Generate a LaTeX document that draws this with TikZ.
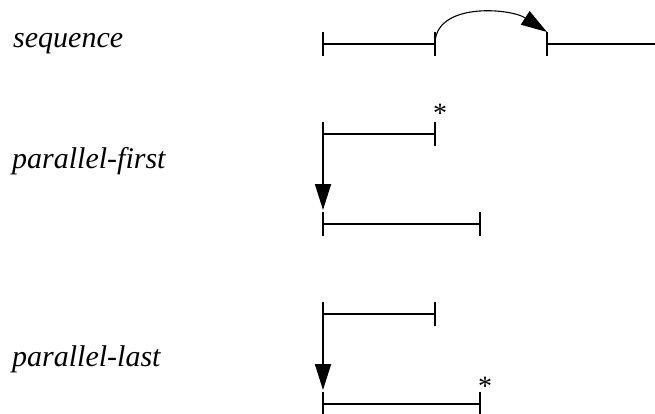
\documentclass[tikz,border=0pt]{standalone}
\usepackage{fontspec}
\setmainfont{Liberation Serif}
\usetikzlibrary{arrows.meta}
\begin{document}
\begin{tikzpicture}[x=1pt,y=-1pt,
  bar/.style={line width=1.8pt},
  tick/.style={line width=1.8pt},
  flow/.style={line width=1.8pt,-{Triangle[length=26pt,width=16pt]}},
  arcflow/.style={line width=1.1pt,-{Triangle[length=26pt,width=16pt]}},
  lbl/.style={anchor=base west,inner sep=0pt,font=\fontsize{30}{36}\selectfont\itshape},
  star/.style={anchor=base,inner sep=0pt,font=\fontsize{28}{32}\selectfont}]
\useasboundingbox (0,0) rectangle (655,414);
% labels
\node[lbl] (l1) at (13,48) {sequence};
\node[lbl] (l2) at (12,168) {parallel-first};
\node[lbl] (l3) at (12,366) {parallel-last};
% sequence
\coordinate (s1) at (323,44);
\coordinate (s2) at (435,44);
\coordinate (s3) at (547,44);
\coordinate (s4) at (655,44);
\coordinate (s3t) at (547,32);
\draw[bar] (s1) -- (s2);
\draw[bar] (s3) -- (s4);
\foreach \p in {s1,s2,s3}{\draw[tick] ([yshift=-12pt]\p) -- ([yshift=12pt]\p);}
\draw[arcflow] (s2) .. controls (435,2) and (510,8) .. (s3t);
% parallel-first
\coordinate (a1) at (323,134);
\coordinate (a2) at (435,134);
\coordinate (b1) at (323,224);
\coordinate (b2) at (480,224);
\coordinate (atop) at (323,122);
\coordinate (atip) at (323,210);
\draw[bar] (a1) -- (a2);
\draw[bar] (b1) -- (b2);
\foreach \p in {a2,b1,b2}{\draw[tick] ([yshift=-12pt]\p) -- ([yshift=12pt]\p);}
\draw[flow] (atop) -- (atip);
\node[star] (st1) at (440,123) {*};
% parallel-last
\coordinate (c1) at (323,314);
\coordinate (c2) at (435,314);
\coordinate (d1) at (323,404);
\coordinate (d2) at (480,404);
\coordinate (ctop) at (323,302);
\coordinate (ctip) at (323,390);
\draw[bar] (c1) -- (c2);
\draw[bar] (d1) -- (d2);
\foreach \p in {c2,d1,d2}{\draw[tick] ([yshift=-12pt]\p) -- ([yshift=12pt]\p);}
\draw[flow] (ctop) -- (ctip);
\node[star] (st2) at (485,395) {*};
\end{tikzpicture}
\end{document}
